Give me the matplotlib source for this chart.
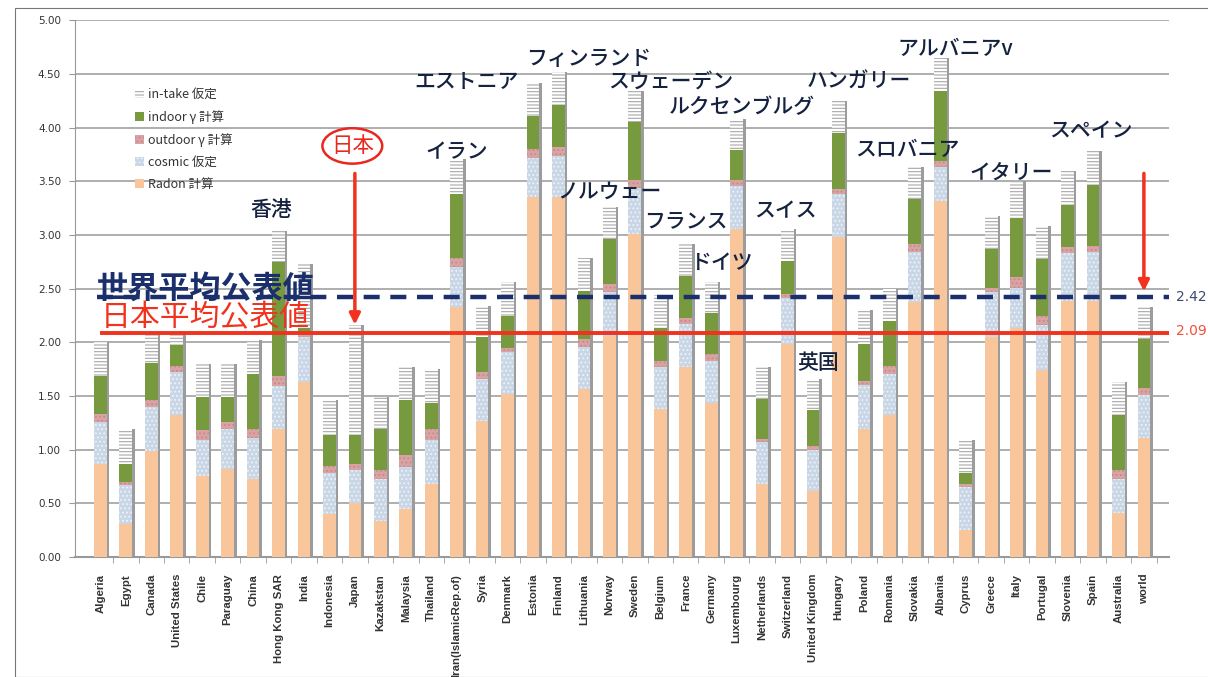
import matplotlib
matplotlib.use("Agg")
import matplotlib.pyplot as plt
import numpy as np
from matplotlib.patches import Ellipse, Rectangle, Patch

# =========================
# Data (mSv / year)
# =========================

countries = [
    "Algeria", "Egypt", "Canada", "United States", "Chile", "Paraguay", "China",
    "Hong Kong SAR", "India", "Indonesia", "Japan", "Kazakstan", "Malaysia",
    "Thailand", "Iran(IslamicRep.of)", "Syria", "Denmark", "Estonia", "Finland",
    "Lithuania", "Norway", "Sweden", "Belgium", "France", "Germany",
    "Luxembourg", "Netherlands", "Switzerland", "United Kingdom", "Hungary",
    "Poland", "Romania", "Slovakia", "Albania", "Cyprus", "Greece", "Italy",
    "Portugal", "Slovenia", "Spain", "Australia", "world",
]

radon = [0.87, 0.31, 0.99, 1.32, 0.76, 0.82, 0.73, 1.19, 1.63, 0.40, 0.50, 0.34,
         0.45, 0.68, 2.33, 1.27, 1.52, 3.35, 3.35, 1.57, 2.06, 3.01, 1.38, 1.77,
         1.44, 3.06, 0.68, 1.99, 0.62, 2.98, 1.19, 1.32, 2.38, 3.32, 0.25, 2.05,
         2.13, 1.74, 2.39, 2.39, 0.41, 1.11]
cosmic = [0.39, 0.36, 0.41, 0.40, 0.33, 0.37, 0.38, 0.40, 0.42, 0.38, 0.31, 0.39,
          0.39, 0.41, 0.37, 0.39, 0.39, 0.37, 0.39, 0.39, 0.41, 0.43, 0.39, 0.40,
          0.39, 0.40, 0.39, 0.42, 0.38, 0.40, 0.41, 0.39, 0.46, 0.31, 0.40, 0.42,
          0.38, 0.42, 0.44, 0.45, 0.32, 0.40]
outdoor = [0.07, 0.03, 0.06, 0.06, 0.09, 0.07, 0.08, 0.10, 0.03, 0.07, 0.06, 0.08,
           0.11, 0.10, 0.09, 0.06, 0.04, 0.08, 0.08, 0.07, 0.07, 0.07, 0.06, 0.06,
           0.06, 0.05, 0.03, 0.04, 0.04, 0.05, 0.04, 0.07, 0.08, 0.06, 0.03, 0.04,
           0.10, 0.09, 0.06, 0.06, 0.08, 0.07]
indoor = [0.36, 0.17, 0.35, 0.20, 0.31, 0.23, 0.52, 1.06, 0.05, 0.29, 0.27, 0.38,
          0.51, 0.25, 0.59, 0.33, 0.30, 0.31, 0.39, 0.45, 0.42, 0.54, 0.30, 0.39,
          0.38, 0.28, 0.37, 0.31, 0.33, 0.52, 0.35, 0.42, 0.42, 0.65, 0.10, 0.36,
          0.55, 0.53, 0.39, 0.57, 0.51, 0.45]
intake = [0.31, 0.32, 0.27, 0.10, 0.31, 0.31, 0.31, 0.29, 0.60, 0.32, 1.02, 0.30,
          0.31, 0.31, 0.33, 0.29, 0.31, 0.31, 0.31, 0.31, 0.30, 0.29, 0.31, 0.30,
          0.29, 0.29, 0.30, 0.30, 0.29, 0.30, 0.31, 0.30, 0.29, 0.31, 0.31, 0.31,
          0.34, 0.30, 0.32, 0.31, 0.31, 0.30]

world_avg = 2.42
japan_avg = 2.09

# Country names written in Japanese above some bars
jp_names = ["香港", "イラン", "エストニア", "フィンランド", "スウェーデン",
            "ルクセンブルグ", "ノルウェー", "フランス", "ドイツ", "スイス", "英国",
            "ハンガリー", "スロバニア", "アルバニアv", "イタリー", "スペイン"]
jp_anchor = ["Hong Kong SAR", "Iran(IslamicRep.of)", "Estonia", "Finland",
             "Sweden", "Luxembourg", "Norway", "France", "Germany",
             "Switzerland", "United Kingdom", "Hungary", "Slovakia", "Albania",
             "Italy", "Spain"]
# label offsets (x in bar units) and heights (data units) for the names
jp_dx = [-0.3, 0.0, -2.6, 1.2, 1.4, 0.2, 0.0, 0.0, 0.4, -0.1, 0.2, 0.8, -0.3,
         0.6, -0.2, -0.1]
jp_y = [3.23, 3.77, 4.43, 4.64, 4.42, 4.19, 3.40, 3.13, 2.74, 3.22, 1.81, 4.43,
        3.79, 4.73, 3.58, 3.97]

seg_names = ["Radon 計算", "cosmic 仮定", "outdoor γ 計算", "indoor γ 計算", "in-take 仮定"]
seg_colors = ["#f9c59a", "#c8d6e6", "#d9a3a3", "#779a3f", "#ffffff"]
seg_hatch = [None, "....", "....", None, "-----"]
seg_hcolor = ["#f9c59a", "#eef3f8", "#c58a8a", "#779a3f", "#a8a8a8"]

JP = ["Noto Sans CJK JP", "DejaVu Sans"]


def main():
    plt.rcParams["hatch.linewidth"] = 0.8
    fig = plt.figure(figsize=(12.08, 6.77), dpi=100)
    ax = fig.add_axes([0.062, 0.177, 0.906, 0.793])

    x = np.arange(len(countries))
    w = 0.5
    segs = [radon, cosmic, outdoor, indoor, intake]
    total = np.sum(np.array(segs), axis=0)

    # gray side face to imitate the 3D columns
    ax.bar(x + w / 2 + 0.05, total, width=0.1, color="#9c9c9c", linewidth=0, zorder=2)

    bottom = np.zeros(len(countries))
    for vals, c, h, hc in zip(segs, seg_colors, seg_hatch, seg_hcolor):
        ax.bar(x, vals, width=w, bottom=bottom, color=c, hatch=h, edgecolor=hc,
               linewidth=0, zorder=3)
        bottom += np.array(vals)

    # axes styling
    ax.set_xlim(-1.0, len(countries))
    ax.set_ylim(0, 5)
    ax.set_yticks(np.arange(0, 5.01, 0.5))
    ax.set_yticklabels([f"{v:.2f}" for v in np.arange(0, 5.01, 0.5)],
                       fontsize=7.5, color="#333333")
    ax.yaxis.grid(True, color="#a8a8a8", linewidth=1.3, zorder=0)
    ax.set_axisbelow(True)
    ax.set_xticks(x)
    ax.set_xticklabels(countries, rotation=90, fontsize=8.2, color="#333333",
                       fontweight="bold", family="Liberation Sans")
    ax.set_xticks(x + 0.5, minor=True)
    ax.tick_params(axis="x", which="major", length=0, pad=12)
    ax.tick_params(axis="x", which="minor", length=4, color="#999999")
    ax.tick_params(axis="y", length=4, color="#999999", pad=6)
    for s in ["top", "right"]:
        ax.spines[s].set_visible(False)
    ax.spines["left"].set_color("#999999")
    ax.spines["bottom"].set_color("#999999")
    ax.spines["bottom"].set_linewidth(1.5)

    # reference lines
    ax.axhline(world_avg, xmin=0.02, xmax=1.0, color="#1a2f6b", linewidth=3.2,
               linestyle=(0, (3.6, 2.4)), zorder=5)
    ax.axhline(japan_avg, xmin=0.025, xmax=1.0, color="#f0321e", linewidth=2.8, zorder=5)
    ax.text(len(countries) + 0.25, world_avg, f"{world_avg:.2f}", color="#3b4a70",
            fontsize=10, va="center", ha="left", clip_on=False)
    ax.text(len(countries) + 0.25, japan_avg + 0.02, f"{japan_avg:.2f}", color="#f0503a",
            fontsize=10, va="center", ha="left", clip_on=False)
    ax.text(-0.12, world_avg + 0.08, "世界平均公表値", family=JP, fontsize=22.4,
            fontweight="bold", color="#1a2f6b", va="center", ha="left", zorder=6)
    ax.text(0.0, japan_avg + 0.14, "日本平均公表値", family=JP, fontsize=21.5,
            color="#f0321e", va="center", ha="left", zorder=6)

    # Japan marker and arrows
    ij = countries.index("Japan")
    ax.add_patch(Ellipse((ij - 0.1, 3.83), 2.35, 0.33, fill=False,
                         edgecolor="#e8281e", linewidth=1.8, zorder=6))
    ax.text(ij - 0.1, 3.83, "日本", family=JP, fontsize=15.5, color="#e8281e",
            ha="center", va="center", zorder=6)
    ax.annotate("", xy=(ij, total[ij] - 0.02), xytext=(ij, 3.6),
                arrowprops=dict(arrowstyle="-|>", color="#f0321e", lw=2.5,
                                mutation_scale=16), zorder=6)
    iw = countries.index("world")
    ax.annotate("", xy=(iw, world_avg + 0.03), xytext=(iw, 3.6),
                arrowprops=dict(arrowstyle="-|>", color="#f0321e", lw=2.5,
                                mutation_scale=16), zorder=6)

    # Japanese country names
    for name, anchor, dx, yy in zip(jp_names, jp_anchor, jp_dx, jp_y):
        ax.text(countries.index(anchor) + dx, yy, name, family=JP, fontsize=15,
                fontweight="medium", color="#15223f", ha="center", va="center",
                zorder=7)

    # legend
    handles = [Patch(facecolor=c, hatch=h, edgecolor=hc, linewidth=0)
               for c, h, hc in zip(seg_colors, seg_hatch, seg_hcolor)]
    leg = ax.legend(handles[::-1], seg_names[::-1], loc="upper left",
                    bbox_to_anchor=(0.045, 0.895), frameon=False,
                    prop={"family": JP, "size": 9}, handlelength=0.7,
                    handleheight=0.7, handletextpad=0.3, labelspacing=0.72)
    for t in leg.get_texts():
        t.set_color("#333333")

    # thin frame around the picture
    fig.patches.append(Rectangle((0.0125, 0.0), 0.99, 0.988, transform=fig.transFigure,
                                 fill=False, edgecolor="#777777", linewidth=0.8))

    fig.savefig("out.png", dpi=100)
    plt.close(fig)


if __name__ == "__main__":
    main()
